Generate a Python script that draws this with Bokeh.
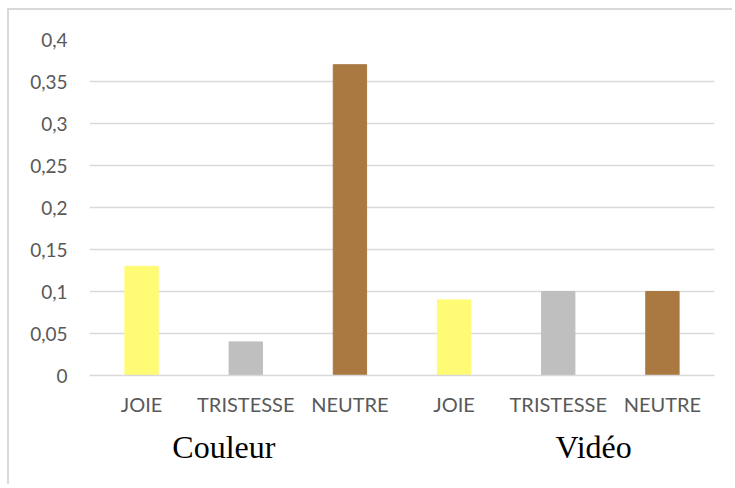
from bokeh.plotting import figure
from bokeh.models import FixedTicker, LinearAxis, Range1d, ColumnDataSource
from bokeh.embed import file_html
from bokeh.resources import INLINE

# ---- data ----
categories = ["JOIE", "TRISTESSE", "NEUTRE", "JOIE", "TRISTESSE", "NEUTRE"]
values = [0.13, 0.04, 0.37, 0.09, 0.10, 0.10]
colors = ["#FFFB75", "#BFBFBF", "#AA7942", "#FFFB75", "#BFBFBF", "#AA7942"]
groups = ["Couleur", "Vidéo"]
group_positions = [1.29, 4.84]
y_ticks = [0, 0.05, 0.1, 0.15, 0.2, 0.25, 0.3, 0.35, 0.4]
y_tick_labels = ["0", "0,05", "0,1", "0,15", "0,2", "0,25", "0,3", "0,35", "0,4"]

x_pos = [i + 0.5 for i in range(len(categories))]
src = ColumnDataSource(dict(x=x_pos, top=values, color=colors))

p = figure(width=725, height=476, output_backend="svg", toolbar_location=None,
           x_range=Range1d(0, len(categories)), y_range=Range1d(0, 0.4),
           min_border_left=80, min_border_right=20, min_border_top=29,
           min_border_bottom=111)
p.styles = {"border-left": "2px solid #D9D9D9", "border-top": "2px solid #D9D9D9",
            "margin-left": "7px", "margin-top": "8px"}
p.outline_line_color = None
p.background_fill_color = "white"
p.border_fill_color = "white"

p.vbar(x="x", top="top", bottom=0, width=0.32, color="color", source=src)

# y axis
p.yaxis.ticker = FixedTicker(ticks=y_ticks)
p.yaxis.major_label_overrides = {t: l for t, l in zip(y_ticks, y_tick_labels)}
p.yaxis.axis_line_color = None
p.yaxis.major_tick_line_color = None
p.yaxis.minor_tick_line_color = None
p.yaxis.major_tick_in = 0
p.yaxis.major_tick_out = 0
p.yaxis.major_label_standoff = 22
p.yaxis.major_label_text_font = "Lato"
p.yaxis.major_label_text_font_size = "19px"
p.yaxis.major_label_text_color = "#595959"

p.ygrid.ticker = FixedTicker(ticks=y_ticks)
p.ygrid.grid_line_color = "#D9D9D9"
p.ygrid.grid_line_width = 1.5
p.xgrid.grid_line_color = None

# x axis (categories)
p.xaxis.ticker = FixedTicker(ticks=x_pos)
p.xaxis.major_label_overrides = {x: c for x, c in zip(x_pos, categories)}
p.xaxis.axis_line_color = "#D9D9D9"
p.xaxis.axis_line_width = 1.5
p.xaxis.major_tick_line_color = None
p.xaxis.minor_tick_line_color = None
p.xaxis.major_label_standoff = 10
p.xaxis.major_label_text_font = "Lato"
p.xaxis.major_label_text_font_size = "20px"
p.xaxis.major_label_text_color = "#595959"

# group axis
gax = LinearAxis(ticker=FixedTicker(ticks=group_positions))
gax.major_label_overrides = {x: g for x, g in zip(group_positions, groups)}
gax.axis_line_color = None
gax.major_tick_line_color = None
gax.minor_tick_line_color = None
gax.major_label_standoff = 4
gax.major_label_text_font = "Liberation Serif"
gax.major_label_text_font_size = "32px"
gax.major_label_text_color = "black"
p.add_layout(gax, "below")

open("out.html", "w").write(file_html(p, INLINE))
